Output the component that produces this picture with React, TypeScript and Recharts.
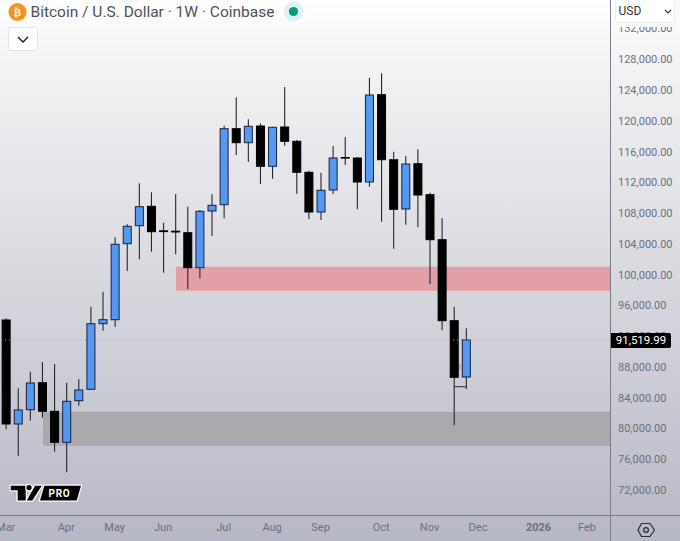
import React from "react";
import { Bar, ComposedChart, ReferenceArea, ReferenceLine, XAxis, YAxis } from "recharts";

const highs = [94330,85230,87388,88649,88389,85958,86400,95838,97788,104860,106550,111880,110710,106758,110489,108838,108409,110450,119368,123060,120200,119680,119238,124399,117509,113518,113258,116729,117899,115260,125608,126180,115988,115429,116300,110658,107330,95838,93030];
const lows = [79900,76468,81018,81408,76988,74310,82968,85100,92718,93238,100479,102000,102988,100258,102650,98139,99530,105029,107330,115559,114649,111789,112478,116768,110528,107239,107109,110489,114259,108500,111438,106888,103378,106498,106160,98789,92809,80420,85139];
const opens = [94109,80589,82448,85958,82240,78210,83618,85100,93628,94148,104028,106368,108890,105700,105653,105458,100908,108279,109098,118978,117158,119329,114090,119199,117340,113310,108149,111009,115234,115169,112049,123398,114948,108539,114428,110398,104548,94018,86699];
const closes = [80589,82409,85919,82240,78210,83540,85009,93628,94148,103950,106290,108838,105588,105600,105549,100908,108240,109020,118978,117158,119290,114090,119160,117340,113310,108149,110970,115169,115169,112049,123359,114948,108500,114389,110359,104548,94018,86660,91519.99];

const xTickIndex = [0,5,9,13,18,22,26,31,35,39,44,48];
const xTickLabels = ["Mar","Apr","May","Jun","Jul","Aug","Sep","Oct","Nov","Dec","2026","Feb"];
const priceTicks = [72000,76000,80000,84000,88000,92000,96000,100000,104000,108000,112000,116000,120000,124000,128000,132000];
const lastPrice = 91519.99;
const resistanceZone = [97918, 101038];
const supportZone = [77768, 82188];
const titleText = "Bitcoin / U.S. Dollar · 1W · Coinbase";

const data = highs.map((h, i) => ({
  i,
  range: [lows[i], h] as [number, number],
  open: opens[i],
  close: closes[i],
  high: h,
  low: lows[i],
}));

const BLUE = "#5598f2";
const EDGE = "#14233f";
const AXIS_TEXT = "#6d6f7a";

function Candle(props: any) {
  const { x, y, width, height, payload } = props;
  const k = Math.abs(height) / (payload.high - payload.low);
  const py = (p: number) => y + (payload.high - p) * k;
  const cx = x + width / 2;
  const up = payload.close >= payload.open;
  const top = py(Math.max(payload.open, payload.close));
  const bottom = py(Math.min(payload.open, payload.close));
  return (
    <g>
      <line x1={cx} x2={cx} y1={py(payload.high)} y2={py(payload.low)} stroke="#26272c" strokeWidth={1.1} />
      <rect
        x={x + 0.5}
        y={top}
        width={width - 1}
        height={Math.max(bottom - top, 0.6)}
        fill={up ? BLUE : "#000"}
        stroke={up ? EDGE : "#000"}
        strokeWidth={1}
      />
    </g>
  );
}

function XTick(props: any) {
  const { x, y, payload } = props;
  const label = xTickLabels[xTickIndex.indexOf(payload.value)];
  const bold = label === "2026";
  return (
    <text x={x} y={y + 4} textAnchor="middle" dominantBaseline="central" fontFamily="Roboto" fontSize={11} fontWeight={bold ? 700 : 400} fill={AXIS_TEXT}>
      {label}
    </text>
  );
}

export default function App() {
  return (
    <div
      style={{
        position: "absolute",
        left: 0,
        top: 0,
        width: 680,
        height: 541,
        overflow: "hidden",
        background: "linear-gradient(180deg, #ffffff 0%, #f3f3f5 12%, #b7b8c5 100%)",
        fontFamily: "Roboto",
      }}
    >
      <ComposedChart width={680} height={541} data={data} margin={{ top: 0, right: 0, bottom: 0, left: 0 }}>
        <XAxis
          dataKey="i"
          type="number"
          domain={[-0.47, 49.9]}
          allowDataOverflow
          ticks={xTickIndex}
          interval={0}
          height={26}
          axisLine={false}
          tickLine={false}
          tick={<XTick />}
        />
        <YAxis
          orientation="right"
          type="number"
          domain={[68759, 135709]}
          allowDataOverflow
          ticks={priceTicks}
          interval={0}
          width={70}
          axisLine={false}
          tickLine={false}
          tickSize={0}
          tickMargin={8}
          tick={{ fill: AXIS_TEXT, fontSize: 11, fontFamily: "Roboto" }}
          tickFormatter={(v: number) => v.toLocaleString("en-US", { minimumFractionDigits: 2, maximumFractionDigits: 2 })}
        />
        <ReferenceArea x1={14.06} y1={resistanceZone[0]} y2={resistanceZone[1]} fill="#e39fa8" fillOpacity={1} stroke="none" />
        <ReferenceArea x1={3.08} y1={supportZone[0]} y2={supportZone[1]} fill="#a9a9ae" fillOpacity={1} stroke="none" />
        <ReferenceArea x1={37.35} x2={37.6} y1={87609} y2={88389} fill="#d9a3ac" fillOpacity={1} stroke="none" />
        <ReferenceLine y={lastPrice} stroke="#a6a7b0" strokeDasharray="1 3" strokeWidth={1} />
        <Bar dataKey="range" barSize={9} isAnimationActive={false} shape={<Candle />} />
        <ReferenceLine
          segment={[{ x: 37, y: 85438 }, { x: 38, y: 85438 }]}
          stroke="#3c3d44"
          strokeWidth={1.2}
        />
      </ComposedChart>

      {/* frame */}
      <div style={{ position: "absolute", left: 610, top: 0, width: 1, height: 541, background: "#7c7d87" }} />
      <div style={{ position: "absolute", left: 0, top: 515, width: 680, height: 1, background: "#7c7d87" }} />

      {/* title */}
      <svg style={{ position: "absolute", left: 0, top: 0 }} width={310} height={26}>
        <circle cx={17.5} cy={12} r={9} fill="#f7931a" />
        <text x={17.5} y={16} textAnchor="middle" fontFamily="DejaVu Sans" fontWeight={700} fontSize={11} fill="#fff">₿</text>
        <circle cx={293.5} cy={11.5} r={10} fill="#dff0ee" />
        <circle cx={293.5} cy={11.5} r={4.6} fill="#089981" />
      </svg>
      <div style={{ position: "absolute", left: 30.5, top: 2, lineHeight: "20px", fontSize: 15.5, color: "#50525a", whiteSpace: "nowrap" }}>
        {titleText}
      </div>

      {/* collapse button */}
      <div style={{ position: "absolute", left: 8, top: 27, width: 30, height: 24, boxSizing: "border-box", background: "#fff", border: "1px solid #e4e4e8", borderRadius: 3 }}>
        <svg width={28} height={22}>
          <path d="M9 9 L14 14 L19 9" fill="none" stroke="#131722" strokeWidth={1.4} />
        </svg>
      </div>

      {/* currency */}
      <div style={{ position: "absolute", left: 612, top: 0, width: 68, height: 26.5, background: "#fafafb" }} />
      <div style={{ position: "absolute", left: 615, top: -2, width: 60, height: 25, boxSizing: "border-box", background: "#fff", border: "1px solid #ececf0", borderRadius: 3, fontSize: 12, lineHeight: "25px", paddingLeft: 2.5, color: "#33353c" }}>
        USD
        <svg style={{ position: "absolute", left: 47, top: 9 }} width={10} height={8}>
          <path d="M2 2 L5 5 L8 2" fill="none" stroke="#33353c" strokeWidth={1.2} />
        </svg>
      </div>

      {/* last price */}
      <div style={{ position: "absolute", left: 611, top: 333, width: 60, height: 15, background: "#000", borderRadius: "0 2px 2px 0", color: "#fff", fontSize: 11.5, lineHeight: "15px", textAlign: "center" }}>
        91,519.99
      </div>

      {/* logo */}
      <svg style={{ position: "absolute", left: 0, top: 476 }} width={90} height={34}>
        <g stroke="#fff" strokeWidth={2.4} strokeLinejoin="round" paintOrder="stroke" fill="#000">
          <path d="M10.7 9.7 H25.7 V24.5 H17.7 V14.2 H10.7 Z" />
          <circle cx={29} cy={11.6} r={2.6} />
          <path d="M26.7 24.5 L35 9.7 H41.7 L32.3 24.5 Z" />
          <path d="M44.3 9.7 H81 L76.7 24.5 H40 Z" />
        </g>
        <text x={59.5} y={21} textAnchor="middle" fontFamily="Roboto" fontWeight={700} fontSize={10} letterSpacing={0.8} fill="#fff">PRO</text>
      </svg>

      {/* settings */}
      <svg style={{ position: "absolute", left: 636, top: 519 }} width={20} height={22}>
        <path d="M5 4.5 H13.5 L18 11 L13.5 17.5 H5 L1.5 11 Z" transform="translate(0.5 0)" fill="none" stroke="#2b2d33" strokeWidth={1.2} strokeLinejoin="round" />
        <circle cx={10} cy={11} r={2.4} fill="none" stroke="#2b2d33" strokeWidth={1.2} />
      </svg>
    </div>
  );
}
